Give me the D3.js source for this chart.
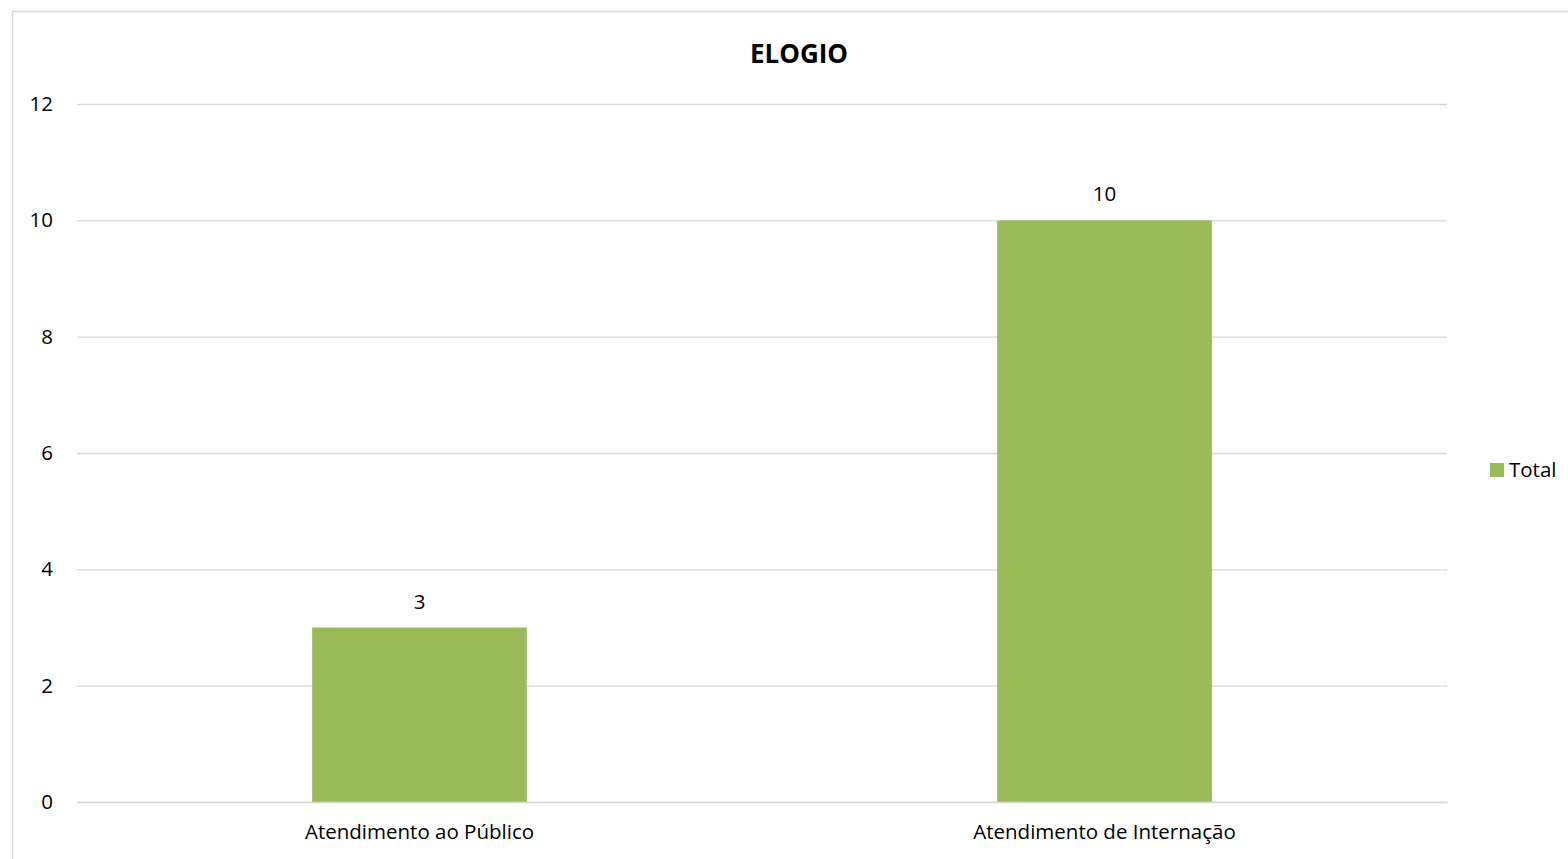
<!DOCTYPE html>
<html><head><meta charset="utf-8">
<script src="https://cdn.jsdelivr.net/npm/d3@7"></script>
<style>body{margin:0;background:#fff}svg{display:block;font-family:"Open Sans",sans-serif}</style>
</head><body>
<svg id="c" width="1568" height="859"></svg>
<script>
const categories = ["Atendimento ao Público", "Atendimento de Internação"];
const values = [3, 10];
const yTicks = [0, 2, 4, 6, 8, 10, 12];
const seriesName = "Total";
const title = "ELOGIO";

const svg = d3.select("#c");
svg.append("rect").attr("x", 12.5).attr("y", 11.5).attr("width", 1570).attr("height", 860)
  .attr("fill", "#fff").attr("stroke", "#d9d9d9").attr("stroke-width", 1.5);

const m = {left: 77, right: 1447, top: 104, bottom: 802};
const x = d3.scaleBand().domain(categories).range([m.left, m.right]).paddingInner(0.6866).paddingOuter(0.3433);
const y = d3.scaleLinear().domain([0, 12]).range([m.bottom, m.top]);

const fs = 20.5;
const yAxis = d3.axisLeft(y).tickValues(yTicks).tickSize(-(m.right - m.left)).tickPadding(24);
const gy = svg.append("g").attr("transform", `translate(${m.left},0)`).call(yAxis);
gy.select(".domain").remove();
gy.selectAll(".tick line").attr("stroke", "#d9d9d9").attr("stroke-width", 1.3);
gy.selectAll(".tick text").attr("fill", "#000").attr("font-size", fs).attr("font-family", "Open Sans");

svg.append("g").selectAll("rect").data(values).join("rect")
  .attr("x", (d, i) => x(categories[i])).attr("width", x.bandwidth())
  .attr("y", d => y(d)).attr("height", d => y(0) - y(d)).attr("fill", "#9bbb59");

svg.append("g").selectAll("text").data(values).join("text")
  .attr("x", (d, i) => x(categories[i]) + x.bandwidth() / 2).attr("y", d => y(d) - 19)
  .attr("text-anchor", "middle").attr("font-size", fs).text(d => d);

const xAxis = d3.axisBottom(x).tickSize(0).tickPadding(22);
const gx = svg.append("g").attr("transform", `translate(0,${m.bottom})`).call(xAxis);
gx.select(".domain").attr("stroke", "#d9d9d9").attr("stroke-width", 1.3);
gx.selectAll(".tick text").attr("fill", "#000").attr("font-size", fs).attr("font-family", "Open Sans");

svg.append("text").attr("x", 799).attr("y", 63).attr("text-anchor", "middle")
  .attr("font-size", 26).attr("font-weight", "bold").text(title);

const lg = svg.append("g").attr("transform", "translate(1490,463)");
lg.append("rect").attr("width", 14).attr("height", 14).attr("fill", "#9bbb59");
lg.append("text").attr("x", 19).attr("y", 14).attr("font-size", fs).text(seriesName);
</script>
</body></html>
